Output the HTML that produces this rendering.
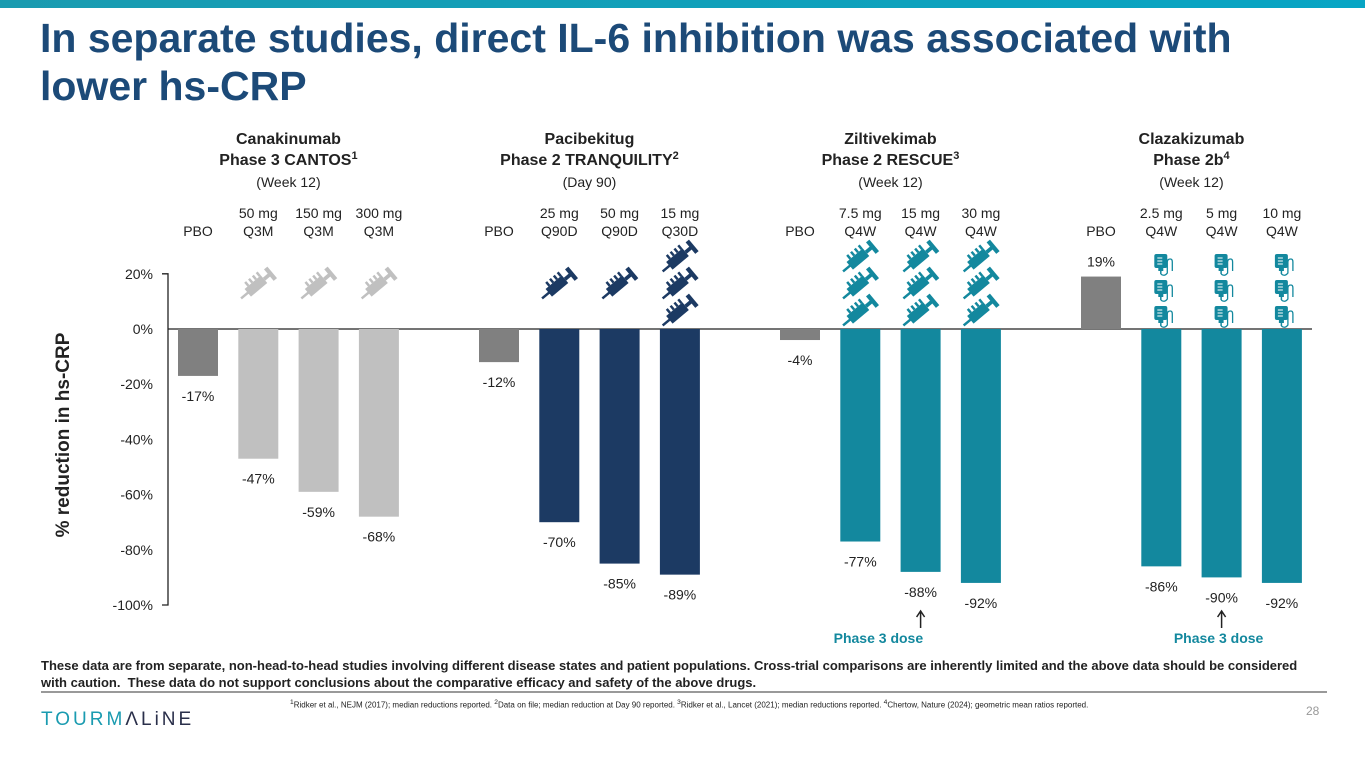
<!DOCTYPE html>
<html><head><meta charset="utf-8"><style>
body{margin:0;width:1365px;height:768px;overflow:hidden;background:#fff;font-family:"Liberation Sans",Arial,sans-serif;position:relative}
.t{position:absolute}
</style></head><body>
<div class="t" style="left:0;top:0;width:1365px;height:8px;background:linear-gradient(90deg,#1a9bb0,#07a5c4)"></div>
<div class="t" style="left:40px;top:14px;font-size:41px;font-weight:bold;color:#1c4a78;line-height:48px;white-space:nowrap">In separate studies, direct IL-6 inhibition was associated with<br>lower hs-CRP</div>
<svg class="t" style="left:0;top:0" width="1365" height="768" id="chart"></svg>
<div class="t" style="left:41px;top:657px;width:1265px;font-size:13px;font-weight:bold;color:#222;line-height:17px">These data are from separate, non-head-to-head studies involving different disease states and patient populations. Cross-trial comparisons are inherently limited and the above data should be considered with caution.&nbsp; These data do not support conclusions about the comparative efficacy and safety of the above drugs.</div>
<div class="t" style="left:41px;top:691px;width:1286px;height:2px;background:#999"></div>
<div class="t" style="left:41px;top:709px;font-size:19px;letter-spacing:3px;color:#1a9bb0">TOURM<span style="color:#2a2f4a">ΛLiNE</span></div>
<div class="t" style="left:290px;top:699px;font-size:8px;color:#222"><sup>1</sup>Ridker et al., NEJM (2017); median reductions reported. <sup>2</sup>Data on file; median reduction at Day 90 reported. <sup>3</sup>Ridker et al., Lancet (2021); median reductions reported. <sup>4</sup>Chertow, Nature (2024); geometric mean ratios reported.</div>
<div class="t" style="left:1306px;top:704px;font-size:12px;color:#999">28</div>
<script>
const groups=["Canakinumab","Pacibekitug","Ziltivekimab","Clazakizumab"];
const trials=["Phase 3 CANTOS","Phase 2 TRANQUILITY","Phase 2 RESCUE","Phase 2b"];
const sups=["1","2","3","4"];
const timepoints=["(Week 12)","(Day 90)","(Week 12)","(Week 12)"];
const doseTop=[["","50 mg","150 mg","300 mg"],["","25 mg","50 mg","15 mg"],["","7.5 mg","15 mg","30 mg"],["","2.5 mg","5 mg","10 mg"]];
const doseBot=[["PBO","Q3M","Q3M","Q3M"],["PBO","Q90D","Q90D","Q30D"],["PBO","Q4W","Q4W","Q4W"],["PBO","Q4W","Q4W","Q4W"]];
const values=[[-17,-47,-59,-68],[-12,-70,-85,-89],[-4,-77,-88,-92],[19,-86,-90,-92]];
const iconCounts=[[0,1,1,1],[0,1,1,3],[0,3,3,3],[0,3,3,3]];
const yTicks=[20,0,-20,-40,-60,-80,-100];
const colors=["#c0c0c0","#1c3a63","#13889e","#13889e"];
const ns="http://www.w3.org/2000/svg";
const svg=document.getElementById('chart');
const y=v=>329-v*2.76;
const x=(g,i)=>198+g*301+i*60.3;
function el(t,a,txt){const e=document.createElementNS(ns,t);for(const k in a)e.setAttribute(k,a[k]);if(txt!==undefined)e.textContent=txt;svg.appendChild(e);return e;}
function txt(xx,yy,s,opt){const e=el('text',Object.assign({x:xx,y:yy,'text-anchor':'middle','font-size':14,fill:'#222','font-family':'Liberation Sans, Arial, sans-serif'},opt||{}),s);return e;}
const ax=el('line',{x1:168,x2:1312,y1:y(0),y2:y(0),stroke:'#222','stroke-width':1.3});

const ay=el('path',{d:`M162 ${y(20)} H168 V${y(-100)} H162`,fill:'none',stroke:'#222','stroke-width':1.3});

yTicks.forEach(v=>{const t=txt(153,y(v)+5,v+'%',{'text-anchor':'end'});
});
const yt=txt(0,0,'% reduction in hs-CRP',{'font-size':19,'font-weight':'bold',transform:'translate(69,435) rotate(-90)'});

function syringe(cx,cy,c){const g=el('g',{transform:`translate(${cx},${cy}) rotate(-40) scale(1.25)`,fill:c,stroke:c});

const add=(t,a)=>{const e=document.createElementNS(ns,t);for(const k in a)e.setAttribute(k,a[k]);g.appendChild(e);};
add('line',{x1:-18,y1:0,x2:-10,y2:0,'stroke-width':2});
add('rect',{x:-11,y:-4,width:17,height:8,stroke:'none'});
for(let k=0;k<4;k++)add('rect',{x:-8+k*4,y:-8,width:2,height:4,stroke:'none'});
add('line',{x1:6,y1:0,x2:12,y2:0,'stroke-width':3});
add('rect',{x:11,y:-6,width:3.5,height:12,stroke:'none'});}
function ivbag(cx,cy,c){const g=el('g',{transform:`translate(${cx},${cy})`,fill:c,stroke:c});

const add=(t,a)=>{const e=document.createElementNS(ns,t);for(const k in a)e.setAttribute(k,a[k]);g.appendChild(e);};
add('rect',{x:-7,y:-9,width:13,height:14,rx:2,stroke:'none'});
add('rect',{x:-3,y:5,width:5,height:3,stroke:'none'});
add('line',{x1:-0.5,y1:8,x2:-0.5,y2:11,'stroke-width':1.5});
add('line',{x1:-4,y1:-5,x2:1,y2:-5,stroke:'#fff','stroke-width':1});
add('line',{x1:-4,y1:-2,x2:1,y2:-2,stroke:'#fff','stroke-width':1});
add('line',{x1:-4,y1:1,x2:1,y2:1,stroke:'#fff','stroke-width':1});
add('path',{d:'M-0.5 11 Q3 14 6 10 V-1 Q6 -4 9 -4 Q11 -4 11 -1 V8',fill:'none','stroke-width':1.3});}
groups.forEach((gname,g)=>{
 const cx=x(g,1.5);
 const a=txt(cx,144,gname,{'font-size':16,'font-weight':'bold'});
 const b=txt(cx,165,trials[g],{'font-size':16,'font-weight':'bold'});
 const s=document.createElementNS(ns,'tspan');s.setAttribute('font-size',11);s.setAttribute('dy',-6);s.textContent=sups[g];b.appendChild(s);
 const c=txt(cx,187,timepoints[g]);
 values[g].forEach((v,i)=>{
  const xc=x(g,i);
  if(doseTop[g][i]){const d=txt(xc,218,doseTop[g][i]);}
  const d2=txt(xc,236,doseBot[g][i]);
  const col=i==0?'#808080':colors[g];
  const r=el('rect',{x:xc-20,width:40,y:Math.min(y(v),y(0)),height:Math.abs(y(v)-y(0)),fill:col});
  
  const lt=txt(xc,v<0?y(v)+25:y(v)-10,v+'%');
  const n=iconCounts[g][i];
  for(let k=0;k<n;k++){
   const yy=n==1?284:257+k*27;
   if(g==3)ivbag(xc,263+k*26,col);else syringe(xc,yy,col);
  }
 });
});
[[2,2],[3,2]].forEach(([g,i])=>{const xc=x(g,i);
 const ar=el('path',{d:`M${xc} 611 V628 M${xc-4} 617 L${xc} 611 L${xc+4} 617`,fill:'none',stroke:'#222','stroke-width':1.5});
 
 const p=txt(g==2?x(g,1.3):x(g,1.95),643,'Phase 3 dose',{'font-weight':'bold',fill:'#13889e'});
 });
</script>
</body></html>
